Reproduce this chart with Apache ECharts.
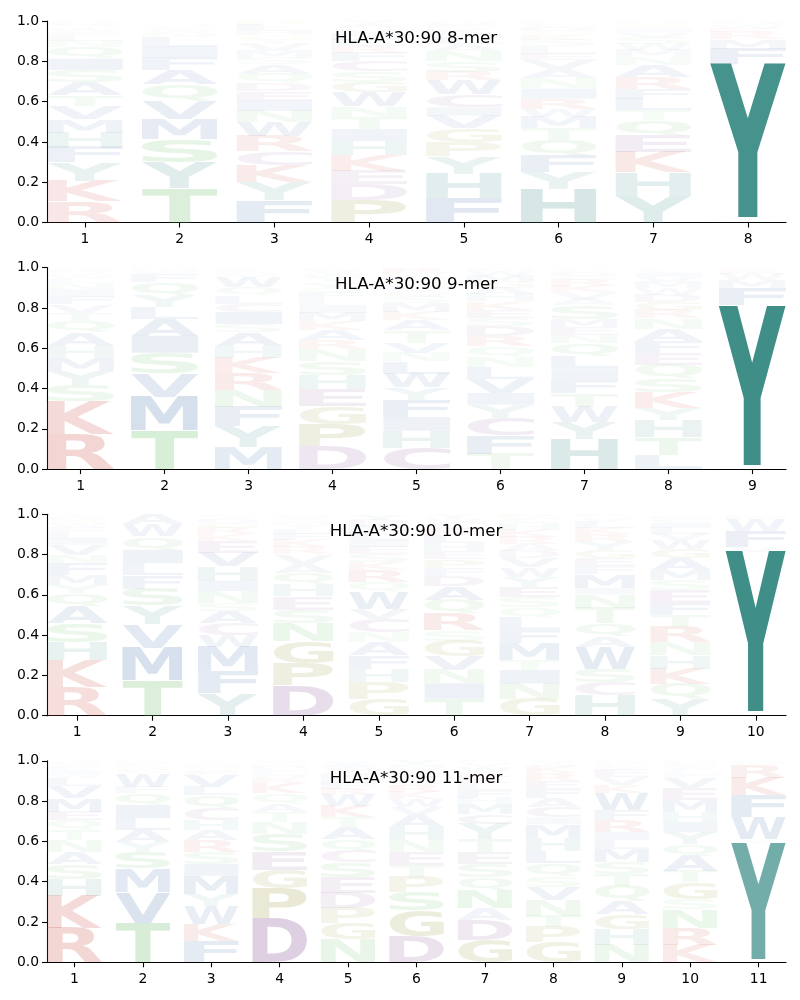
<!DOCTYPE html>
<html><head><meta charset="utf-8">
<script src="https://cdn.jsdelivr.net/npm/echarts@6/dist/echarts.min.js"></script>
<style>html,body{margin:0;padding:0;background:#fff}#c{width:800px;height:1000px}</style>
</head><body><div id="c"></div>
<script>
// ---- data: per position, letters from bottom to top with frequency (%) ----
const titles = ['HLA-A*30:90 8-mer', 'HLA-A*30:90 9-mer', 'HLA-A*30:90 10-mer', 'HLA-A*30:90 11-mer'];
const mer8 = [
  [['R',10.4],['K',10.2],['Y',9.1],['F',7.4],['H',7.4],['M',6.6],['V',6.6],['T',5.3],['A',6.6],['S',5.8],['I',5.8],['Q',5.8],['N',3],['L',2.5],['E',2],['W',2],['G',1.2],['D',1],['P',0.5],['C',0.5]],
  [['T',17.3],['Y',12.7],['S',11.5],['M',9.9],['V',9.1],['Q',7.9],['A',7.4],['F',6.1],['I',5.4],['L',4.8],['N',2],['W',1.5],['C',1.2],['H',1],['G',0.8],['E',0.6],['R',0.4],['K',0.4]],
  [['F',10.7],['Y',9],['K',8.2],['C',6.6],['R',7.4],['W',6.6],['N',5.5],['I',5],['E',4.5],['D',4],['Q',4.5],['A',4.5],['S',3],['M',3.5],['V',3.5],['T',2],['G',2],['H',2],['L',3],['P',2]],
  [['P',10.7],['D',7.4],['E',6.6],['K',7.4],['H',6.6],['I',5.8],['T',5.8],['N',5],['W',6.6],['G',5],['S',5],['C',5],['F',4],['R',3],['L',3],['M',3],['V',2.5],['A',2],['Y',1.5]],
  [['F',11.5],['H',11.5],['Y',8.2],['P',6.6],['G',6.6],['V',6],['I',4],['C',6],['W',6.6],['R',4],['S',5],['N',5],['A',3],['L',3],['M',2.5],['K',2],['E',1.5],['D',1],['Q',0.5],['T',0.5]],
  [['H',16.5],['Y',8.2],['F',8.2],['Q',7.4],['T',5.8],['M',5.5],['W',4],['R',5],['I',5],['N',5],['A',4.5],['V',4.5],['E',3],['L',3.5],['S',3],['K',2.5],['G',2],['D',2],['C',1.5],['P',1.5]],
  [['Y',13.2],['H',11.5],['K',9.9],['E',8.2],['Q',7.4],['T',5],['L',5.5],['F',5],['R',5.8],['A',5.8],['N',4],['M',3.5],['W',3],['S',3],['V',2.5],['I',2],['G',1.5],['D',1],['C',0.7],['P',0.5]],
  [['H',1],['L',0.5],['I',0.5],['V',0.5],['Y',75.5],['F',7.6],['M',4.5],['R',3.5],['K',1.8],['W',1.6],['Q',1.2],['S',1]]
];
const mer9 = [
  [['R',17.4],['K',15.8],['S',8],['Y',7],['M',6.6],['H',5.8],['A',6.6],['Q',5.8],['T',4],['V',4],['F',4],['I',3.3],['N',3],['L',2],['W',2],['G',1.5],['D',1],['C',0.8],['P',0.5]],
  [['T',19],['M',16.6],['V',11.6],['S',10],['I',8.3],['A',8.3],['L',5.8],['Y',5.8],['Q',6.6],['F',4],['W',1.5],['N',1],['H',0.5]],
  [['M',10.8],['Y',10],['F',9.1],['N',8.3],['R',8.3],['K',7.5],['H',5.8],['A',6.6],['S',4],['I',5.8],['C',4],['L',4],['Q',4],['W',5],['V',1.5],['E',1],['T',1],['D',0.5],['P',0.5]],
  [['D',10.8],['P',10.8],['G',8.3],['E',8.3],['H',6.6],['S',6.6],['N',5.8],['R',4.2],['A',5],['K',4],['M',4],['I',3.3],['L',3.3],['F',3],['Q',2.5],['Y',2.5],['T',2],['W',2],['V',1.5],['C',1.5]],
  [['C',10],['H',8.3],['I',6.6],['F',8.3],['Y',5.8],['W',6.6],['L',5.8],['N',4],['V',5],['T',5.8],['A',5],['K',4],['M',4],['S',3],['Q',3],['E',2.5],['G',2.5],['D',2],['P',1.5],['R',2.5]],
  [['T',7.5],['F',9],['C',8.3],['Y',6.6],['I',5.8],['V',7],['L',5.8],['N',5],['Q',5],['R',5],['D',5],['S',4],['E',4],['K',4],['H',3.5],['A',3],['G',3],['M',3],['W',2.5],['P',1.5]],
  [['H',15],['Y',8.3],['W',7.5],['T',6.6],['F',6.6],['I',5.8],['L',5.8],['Q',6.6],['N',4],['E',4],['M',4],['S',6.6],['A',3.3],['V',3.3],['K',3],['R',3],['G',2],['D',2],['C',1],['P',1]],
  [['L',7],['T',8.3],['H',8.3],['Y',5.8],['K',7.5],['S',6.6],['Q',6.6],['E',5.8],['F',5.8],['A',5.8],['N',5],['R',4],['G',4],['D',3.5],['W',3],['M',3],['V',2.5],['I',2],['C',1.5],['P',1]],
  [['H',1],['L',0.6],['I',0.6],['Y',79],['F',8.3],['M',4],['W',3],['R',2],['K',1.3]]
];
const mer10 = [
  [['R',14],['K',13.3],['H',9.1],['S',9.1],['A',8.3],['Q',6.6],['Y',4],['M',5],['F',5.8],['N',4],['V',5],['I',3],['L',3],['E',2.5],['W',2],['G',1.5],['D',1.5],['T',1.5]],
  [['T',17.4],['M',15.8],['V',11.6],['Y',9.1],['S',8.3],['F',6.6],['L',5.8],['I',6.6],['Q',6.6],['W',5.8],['A',5]],
  [['Y',10.8],['F',10.8],['M',11.6],['W',5.8],['C',5.8],['A',5.8],['S',4],['N',5.8],['I',5],['H',7],['V',6.6],['E',5.8],['K',3],['R',3],['G',2.5],['D',2],['Q',1.5],['L',0.8]],
  [['D',15],['P',10.8],['G',10.8],['N',9.1],['S',6.6],['E',6.6],['H',5.8],['Q',5.8],['A',4.5],['V',4.5],['R',3.5],['K',3.5],['F',3],['L',2.5],['T',2],['M',2],['Y',1.5],['I',1],['W',0.8]],
  [['G',8.3],['P',8.3],['H',6.6],['F',6.6],['A',6.6],['N',5],['C',6.6],['V',5],['W',8.3],['Q',5],['R',5.8],['K',4],['S',4],['E',3.5],['I',3.5],['L',3.5],['M',3.5],['D',3],['Y',2.7]],
  [['T',8.3],['I',7.5],['N',6.6],['V',6.6],['G',7.5],['S',5],['R',8.3],['Q',6.6],['A',6.6],['D',5],['F',4],['P',4],['E',4],['H',4],['L',4],['K',3],['C',3],['W',2],['Y',2]],
  [['G',8.3],['N',7.5],['I',6.6],['T',5],['M',8],['F',6.6],['L',6],['Q',5],['S',5],['E',5],['Y',5],['W',4.5],['V',4.5],['D',3.5],['A',3.5],['R',3.5],['K',3.5],['H',3],['C',2.5],['P',2]],
  [['H',10],['C',6.6],['S',6.6],['W',10.8],['A',5],['Q',6.6],['T',7.5],['N',6.6],['I',3.3],['M',6.6],['F',4],['E',4],['G',4],['Y',4],['R',4],['K',3],['L',3],['V',2],['D',1],['P',0.6]],
  [['Y',8.3],['Q',7.5],['K',7.5],['H',6.6],['N',6.6],['R',7.5],['T',5.8],['F',5.8],['E',6.6],['S',5],['M',5],['A',5.8],['G',4.5],['W',4.5],['V',3],['L',3],['I',2.5],['C',2],['D',1.5],['P',0.8]],
  [['H',1],['L',0.6],['I',0.6],['Y',79.2],['V',2.5],['F',7.8],['W',5.5],['R',1],['M',1],['K',0.8]]
];
const mer11 = [
  [['R',17.2],['K',15.8],['H',8.3],['S',7.5],['A',5.8],['N',5.8],['T',5],['Q',5],['E',4.2],['M',6.6],['V',5.8],['L',4],['W',2],['I',2],['F',2],['G',1.2],['D',1],['C',0.5]],
  [['T',19.7],['V',15],['M',11.7],['S',8.3],['Y',5],['A',5.8],['L',5.8],['I',6.6],['Q',5.8],['F',3.3],['W',6.6],['G',2],['N',1.5],['C',1.2],['H',1],['R',0.5]],
  [['F',10.5],['K',8.3],['W',9.1],['Y',5.8],['M',9.1],['I',5.8],['S',5.8],['R',5.8],['A',5],['H',5],['C',5.8],['Q',6.6],['L',4.2],['V',5.8],['E',2],['G',1.5],['N',1.5],['D',1],['T',1]],
  [['D',21.3],['P',15],['G',9.1],['E',9.1],['S',8.3],['N',5.8],['T',5],['A',4],['Q',5],['K',5],['R',2.5],['H',2],['F',1.5],['L',1.5],['M',1.5],['Y',1],['W',1]],
  [['N',11.3],['G',8.3],['P',7.5],['D',7.5],['E',7.5],['S',7.5],['C',5.8],['Q',5.8],['A',5.8],['T',5],['K',5.5],['W',5.5],['R',3],['F',3],['L',2.5],['M',2.5],['Y',2],['I',2],['V',2]],
  [['D',13],['G',12.5],['S',9.1],['P',7.5],['T',5.8],['E',6.6],['N',5.8],['H',6.6],['A',5.8],['V',4],['W',4],['K',3.5],['R',3],['Q',3],['F',2.5],['L',2.5],['M',2],['Y',2.2]],
  [['G',11.3],['D',10],['A',5.8],['N',9.1],['Q',6.6],['S',6.6],['E',5.8],['T',6.6],['Y',7.5],['C',5],['M',5],['H',3],['F',4],['L',3.5],['K',3],['R',2.5],['W',2.5],['V',2],['P',1.2]],
  [['G',9.6],['P',7.5],['T',5.8],['N',7.5],['V',6.6],['S',5],['Q',6.6],['L',5.8],['H',6.6],['M',6.6],['I',3.3],['C',5],['A',4.5],['F',4.5],['E',4],['R',4],['K',3],['W',1.4],['Y',1.4]],
  [['N',8.8],['H',7.5],['G',7.5],['A',6.6],['Q',7.5],['T',5.8],['S',5.8],['M',6.6],['L',4.5],['I',4],['R',5.8],['F',5],['W',8.3],['K',4],['V',4],['E',3.5],['Y',1.5],['C',1.5],['D',1],['P',0.5]],
  [['K',8.8],['R',8.3],['N',9.1],['S',5],['G',8.3],['T',5.8],['A',7.5],['Q',5.8],['Y',5.8],['I',5],['H',5],['M',5.8],['E',5.8],['V',5],['F',2],['L',2],['W',1.5],['C',1.2],['D',1],['P',1]],
  [['H',0.8],['L',0.5],['I',0.5],['Y',57.5],['V',1.7],['W',11.2],['F',10.8],['K',8.7],['R',6.3],['M',1],['Q',1]]
];
const yTickValues = [0, 0.2, 0.4, 0.6, 0.8, 1.0];

// ---- styling ----
const panels = [mer8, mer9, mer10, mer11];
const groupColor = {
  K:[200,70,58], R:[200,70,58],
  H:[62,142,136], Y:[62,142,136],
  S:[92,184,92], T:[92,184,92], N:[92,184,92], Q:[92,184,92],
  A:[60,107,165], V:[60,107,165], L:[60,107,165], I:[60,107,165], M:[60,107,165], F:[60,107,165], W:[60,107,165],
  D:[133,81,148], E:[133,81,148], C:[133,81,148],
  G:[139,139,40], P:[139,139,40]
};
const LETTERS = 'ACDEFGHIKLMNPQRSTVWY';
const FONT = 'bold 100px "DejaVu Sans"';
const ctx = document.createElement('canvas').getContext('2d');
ctx.font = FONT; ctx.textBaseline = 'middle'; ctx.textAlign = 'left';
const metrics = {};
for (const L of LETTERS) {
  const m = ctx.measureText(L);
  metrics[L] = {left: m.actualBoundingBoxLeft, right: m.actualBoundingBoxRight, asc: m.actualBoundingBoxAscent, desc: m.actualBoundingBoxDescent};
}

const gridTop0 = 21, gridStep = 246.6, gridH = 201.5;
const grids = [], xAxes = [], yAxes = [], series = [], titleOpts = [];
panels.forEach((panel, pi) => {
  const n = panel.length;
  const top = gridTop0 + pi * gridStep;
  grids.push({left: 47, right: 14, top: top, height: gridH});
  const ticks = panel.map((_, i) => i + 1);
  const lab = {fontFamily: 'DejaVu Sans', fontSize: 13.9, color: '#000'};
  xAxes.push({gridIndex: pi, type: 'value', min: 0.6, max: n + 0.4,
    axisLine: {show: true, onZero: false, lineStyle: {color: '#000', width: 1.1}},
    axisTick: {show: true, length: 5, customValues: ticks, lineStyle: {color: '#000', width: 1.1}},
    axisLabel: Object.assign({customValues: ticks, margin: 10, formatter: v => String(v)}, lab),
    splitLine: {show: false}});
  yAxes.push({gridIndex: pi, type: 'value', min: 0, max: 1, interval: 0.2,
    axisLine: {show: true, lineStyle: {color: '#000', width: 1.1}},
    axisTick: {show: true, length: 5, lineStyle: {color: '#000', width: 1.1}},
    axisLabel: Object.assign({margin: 8, formatter: v => v.toFixed(1)}, lab),
    splitLine: {show: false}});
  const data = [];
  panel.forEach((col, ci) => {
    const total = col.reduce((s, d) => s + d[1], 0);
    let acc = 0;
    col.forEach(([L, v]) => {
      const f = v / total;
      data.push([ci + 1, acc, acc + f, LETTERS.indexOf(L), f]);
      acc += f;
    });
  });
  series.push({type: 'custom', xAxisIndex: pi, yAxisIndex: pi, data: data,
    encode: {x: 0, y: [1, 2]}, silent: true,
    renderItem: (params, api) => {
      const x = api.value(0), y0 = api.value(1), y1 = api.value(2);
      const L = LETTERS[api.value(3)];
      const f = api.value(4);
      const p0 = api.coord([x - 0.4, y1]);
      const p1 = api.coord([x + 0.4, y0]);
      const m = metrics[L];
      const sx = (p1[0] - p0[0]) / (m.left + m.right);
      const sy = (p1[1] - p0[1]) / (m.asc + m.desc);
      const c = groupColor[L];
      const a = Math.min(1, 1.26 * f);
      const fill = 'rgba(' + c[0] + ',' + c[1] + ',' + c[2] + ',' + a.toFixed(3) + ')';
      return {type: 'text', x: p0[0] + m.left * sx, y: p0[1] + m.asc * sy, scaleX: sx, scaleY: sy,
        style: {text: L, font: FONT, fill: fill, align: 'left', textAlign: 'left', verticalAlign: 'middle', textVerticalAlign: 'middle', legacy: false}};
    }});
  titleOpts.push({text: titles[pi], left: 411, top: top + 4, textAlign: 'center',
    textStyle: {fontFamily: 'DejaVu Sans', fontSize: 16.7, fontWeight: 'normal', color: '#000'}});
});

const chart = echarts.init(document.getElementById('c'), null, {renderer: 'canvas'});
chart.setOption({animation: false, backgroundColor: '#fff', title: titleOpts, grid: grids, xAxis: xAxes, yAxis: yAxes, series: series});
</script></body></html>
